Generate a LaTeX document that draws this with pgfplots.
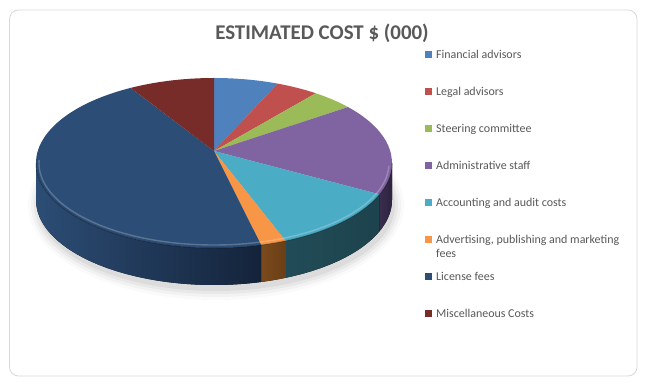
\documentclass[border=0pt]{standalone}
\usepackage{pgfplots}
\usepackage{pgfplotstable}
\pgfplotsset{compat=1.18}
\usepackage{fontspec}
\setmainfont{Carlito}
\definecolor{c0}{HTML}{4F81BD}
\definecolor{c1}{HTML}{C0504D}
\definecolor{c2}{HTML}{9BBB59}
\definecolor{c3}{HTML}{8064A2}
\definecolor{c4}{HTML}{4BACC6}
\definecolor{c5}{HTML}{F79646}
\definecolor{c6}{HTML}{2C4D75}
\definecolor{c7}{HTML}{772C2A}
\definecolor{sL0}{HTML}{2F4D72}\definecolor{sR0}{HTML}{1E3350}
\definecolor{sL1}{HTML}{73302E}\definecolor{sR1}{HTML}{4C201F}
\definecolor{sL2}{HTML}{5D7035}\definecolor{sR2}{HTML}{3E4A23}
\definecolor{sL3}{HTML}{3A2D4E}\definecolor{sR3}{HTML}{2C2340}
\definecolor{sL4}{HTML}{214C57}\definecolor{sR4}{HTML}{1D434D}
\definecolor{sL5}{HTML}{7A4A1C}\definecolor{sR5}{HTML}{6A3F16}
\definecolor{sL6}{HTML}{2C4D75}\definecolor{sR6}{HTML}{14233A}
\definecolor{sL7}{HTML}{4A1C1B}\definecolor{sR7}{HTML}{3A1514}
\definecolor{txt}{HTML}{595959}
\definecolor{frm}{HTML}{D9D9D9}

% Estimated cost in $ (000), in legend order
\pgfplotstableread{
idx value
0 150
1 100
2 100
3 450
4 320
5 60
6 1200
7 200
}\costdata

\begin{document}
\begin{tikzpicture}
\begin{axis}[hide axis, scale only axis, width=647bp, height=388bp,
  xmin=0, xmax=647, ymin=0, ymax=388, clip=false]
\addplot[draw=none, forget plot] coordinates {(0,0) (647,388)};
\pgfplotsextra{
  % background and frame
  \fill[white] (axis cs:0,0) rectangle (axis cs:647,388);
  \draw[frm, line width=0.8bp, rounded corners=9bp] (axis cs:9.5,12) rectangle (axis cs:637,378);
  % soft shadow
  \foreach \k/\op in {10/0.02,7/0.03,4/0.04,1/0.05}{
    \fill[black, opacity=\op] (axis cs:216,183) ellipse[x radius={178bp+\k bp}, y radius={85bp+\k bp}];
  }
  % total
  \gdef\total{0}
  \foreach \i in {0,...,7}{
    \pgfplotstablegetelem{\i}{value}\of\costdata
    \pgfmathparse{\total+\pgfplotsretval}\xdef\total{\pgfmathresult}
  }
  % side walls (front half only)
  \gdef\cum{0}
  \foreach \i in {0,...,7}{
    \pgfplotstablegetelem{\i}{value}\of\costdata
    \pgfmathsetmacro\tA{90-(\cum/\total)*360}
    \pgfmathsetmacro\tB{90-((\cum+\pgfplotsretval)/\total)*360}
    \pgfmathparse{\cum+\pgfplotsretval}\xdef\cum{\pgfmathresult}
    \pgfmathsetmacro\sa{max(\tB,-180)}
    \pgfmathsetmacro\sb{min(\tA,0)}
    \pgfmathparse{\sa<\sb}
    \ifdim\pgfmathresult pt>0.5pt
      \fill[left color=sL\i, right color=sR\i]
        (axis cs:{214+178*cos(\sb)},{225+85*sin(\sb)})
        arc[start angle=\sb, end angle=\sa, x radius=178bp, y radius=85bp]
        -- ++(0,-37bp)
        arc[start angle=\sa, end angle=\sb, x radius=178bp, y radius=85bp]
        -- cycle;
    \fi
  }
  % top faces
  \gdef\cum{0}
  \foreach \i in {0,...,7}{
    \pgfplotstablegetelem{\i}{value}\of\costdata
    \pgfmathsetmacro\tA{90-(\cum/\total)*360}
    \pgfmathsetmacro\tB{90-((\cum+\pgfplotsretval)/\total)*360}
    \pgfmathparse{\cum+\pgfplotsretval}\xdef\cum{\pgfmathresult}
    \fill[c\i] (axis cs:214,237)
      -- (axis cs:{214+178*cos(\tA)},{225+85*sin(\tA)})
      arc[start angle=\tA, end angle=\tB, x radius=178bp, y radius=85bp]
      -- cycle;
  }
  % bevel highlight along the front rim
  \draw[white, opacity=0.22, line width=1.4bp]
    (axis cs:{214+175*cos(178)},{225+82*sin(178)})
    arc[start angle=178, end angle=358, x radius=175bp, y radius=82bp];
  \draw[black, opacity=0.25, line width=1bp]
    (axis cs:{214+178*cos(180)},{225+85*sin(180)})
    arc[start angle=180, end angle=360, x radius=178bp, y radius=85bp];
  % legend
  \foreach \i/\lab in {0/Financial advisors,1/Legal advisors,2/Steering committee,
      3/Administrative staff,4/Accounting and audit costs,
      5/{Advertising, publishing and marketing},6/License fees,7/Miscellaneous Costs}{
    \pgfmathsetmacro\yy{388-55-37*\i}
    \fill[c\i] (axis cs:425,{\yy-3.5}) rectangle (axis cs:432,{\yy+3.5});
    \node[anchor=base west, inner sep=0pt, text=txt, font=\fontsize{12}{14}\selectfont]
      at (axis cs:436,{\yy-4}) {\lab};
  }
  \node[anchor=base west, inner sep=0pt, text=txt, font=\fontsize{12}{14}\selectfont]
    at (axis cs:436,{388-55-37*5-18}) {fees};
  % title
  \node[text=txt, font=\bfseries\fontsize{21}{25}\selectfont, inner sep=0pt]
    at (axis cs:322,355) {ESTIMATED COST \$ (000)};
}
\end{axis}
\end{tikzpicture}
\end{document}
